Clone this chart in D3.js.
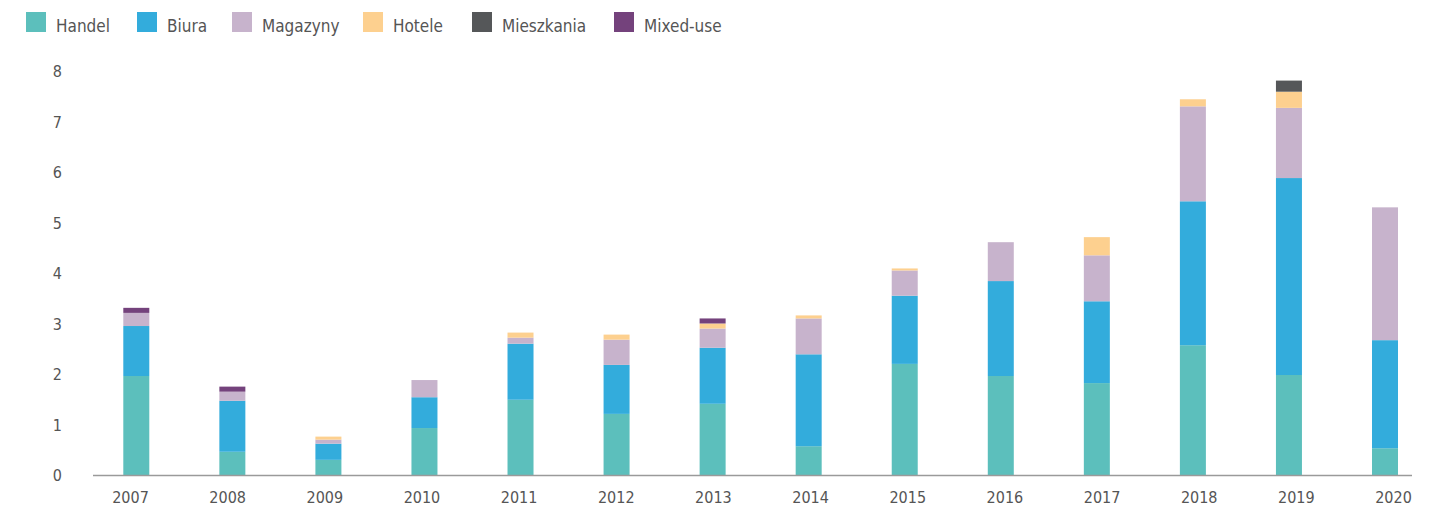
<!DOCTYPE html>
<html>
<head>
<meta charset="utf-8">
<script src="https://cdn.jsdelivr.net/npm/d3@7"></script>
<style>
  html, body { margin: 0; padding: 0; background: #fff; }
  svg { display: block; }
  text { font-family: "DejaVu Sans Condensed", "DejaVu Sans", sans-serif; fill: #555; }
</style>
</head>
<body>
<svg id="chart" width="1439" height="509"></svg>
<script>
const years = ["2007","2008","2009","2010","2011","2012","2013","2014","2015","2016","2017","2018","2019","2020"];
const seriesNames = ["Handel","Biura","Magazyny","Hotele","Mieszkania","Mixed-use"];
const colors = ["#5cbfbc","#33acdc","#c7b3cc","#fdd08f","#555759","#74427c"];
const handel     = [1.97,0.47,0.31,0.94,1.50,1.22,1.42,0.58,2.21,1.97,1.83,2.58,1.99,0.54];
const biura      = [0.99,1.01,0.32,0.61,1.11,0.97,1.11,1.82,1.35,1.88,1.62,2.85,3.90,2.14];
const magazyny   = [0.26,0.18,0.08,0.34,0.12,0.50,0.38,0.71,0.50,0.77,0.91,1.88,1.39,2.63];
const hotele     = [0.00,0.00,0.06,0.00,0.10,0.10,0.10,0.06,0.04,0.00,0.36,0.14,0.32,0.00];
const mieszkania = [0,0,0,0,0,0,0,0,0,0,0,0,0.22,0];
const mixedUse   = [0.10,0.10,0,0,0,0,0.10,0,0,0,0,0,0,0];
const yTicks = [0,1,2,3,4,5,6,7,8];

const seriesValues = [handel, biura, magazyny, hotele, mieszkania, mixedUse];
const table = years.map((yr, i) => {
  const row = { year: yr };
  seriesNames.forEach((s, k) => row[s] = seriesValues[k][i]);
  return row;
});

const svg = d3.select("#chart");
const y = d3.scaleLinear().domain([0, 8]).range([475.5, 71.5]);
const xBar = d3.scalePoint().domain(years).range([136.3, 1385]);
const xLabel = d3.scalePoint().domain(years).range([130, 1393]);
const barW = 26;
const color = d3.scaleOrdinal().domain(seriesNames).range(colors);

const stack = d3.stack().keys(seriesNames)(table);

svg.append("g").selectAll("g")
  .data(stack).join("g")
  .attr("fill", d => color(d.key))
  .selectAll("rect")
  .data(d => d.filter(p => p[1] - p[0] > 0))
  .join("rect")
  .attr("x", d => xBar(d.data.year) - barW / 2)
  .attr("width", barW)
  .attr("y", d => y(d[1]))
  .attr("height", d => y(d[0]) - y(d[1]));

// baseline
svg.append("line")
  .attr("x1", 93).attr("x2", 1412)
  .attr("y1", y(0)).attr("y2", y(0))
  .attr("stroke", "#9a9a9a").attr("stroke-width", 1.5);

// y axis labels
const yAxis = d3.axisLeft(y).tickValues(yTicks).tickSize(0).tickPadding(0).tickFormat(d3.format("d"));
const gy = svg.append("g").attr("transform", "translate(62,0)").call(yAxis);
gy.select(".domain").remove();
gy.selectAll("text").style("font-size", "16px").attr("fill", "#555").style("font-family", null);

// x axis labels
const xAxis = d3.axisBottom(xLabel).tickSize(0).tickPadding(0);
const gx = svg.append("g").attr("transform", "translate(0,492)").call(xAxis);
gx.select(".domain").remove();
gx.selectAll("text").style("font-size", "16px").attr("fill", "#555").style("font-family", null);

// legend
const legendX = [26, 137, 232, 363, 472, 614];
const lg = svg.append("g").selectAll("g")
  .data(seriesNames).join("g")
  .attr("transform", (d, i) => `translate(${legendX[i]},12)`);
lg.append("rect").attr("width", 20).attr("height", 20).attr("fill", d => color(d));
lg.append("text").attr("x", 30).attr("y", 19.5)
  .style("font-size", "17px").text(d => d);
</script>
</body>
</html>
